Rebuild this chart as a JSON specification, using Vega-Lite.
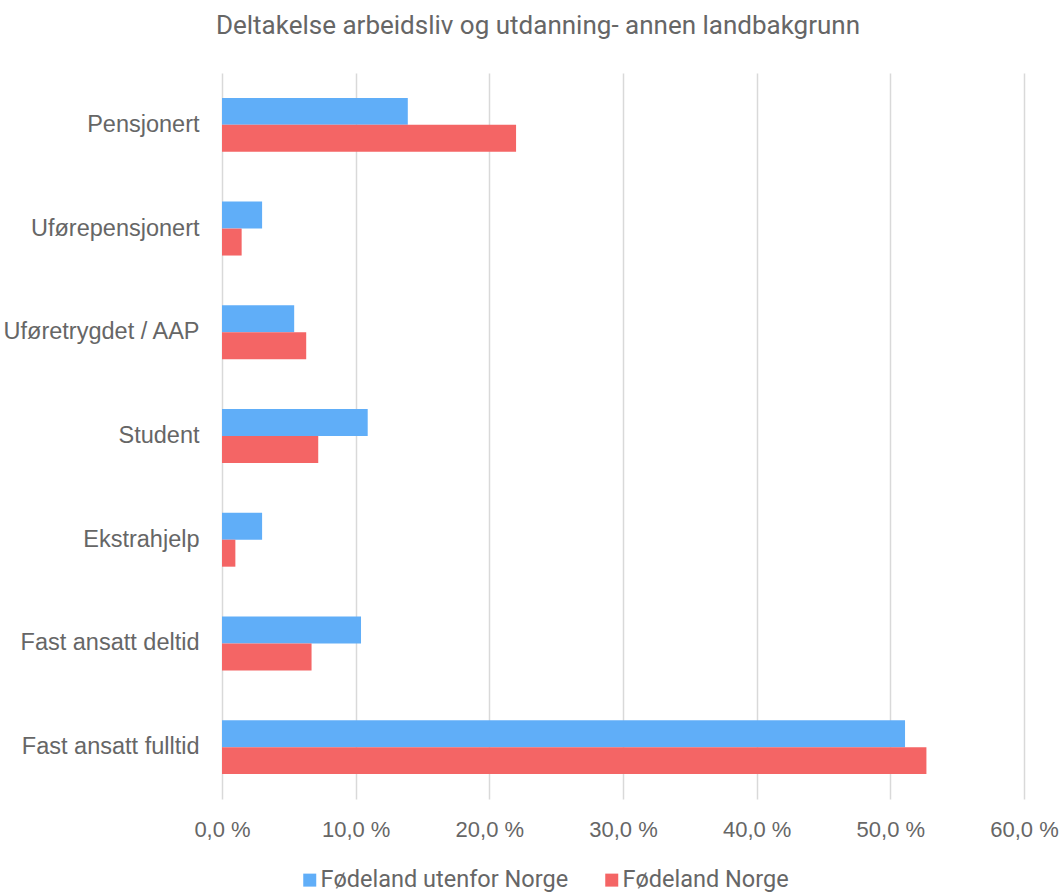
{
  "$schema": "https://vega.github.io/schema/vega-lite/v6.json",
  "width": 802,
  "height": 726,
  "autosize": {"type": "none"},
  "padding": {"left": 222, "top": 73, "right": 38, "bottom": 93},
  "background": "white",
  "title": {
    "text": "Deltakelse arbeidsliv og utdanning- annen landbakgrunn",
    "font": "Roboto",
    "fontSize": 26,
    "fontWeight": "normal",
    "color": "#666666",
    "anchor": "middle",
    "frame": "group",
    "dx": -85,
    "offset": 34
  },
  "data": {
    "values": [
      {"kategori": "Pensjonert", "gruppe": "Fødeland utenfor Norge", "verdi": 13.9},
      {"kategori": "Pensjonert", "gruppe": "Fødeland Norge", "verdi": 22.0},
      {"kategori": "Uførepensjonert", "gruppe": "Fødeland utenfor Norge", "verdi": 3.0},
      {"kategori": "Uførepensjonert", "gruppe": "Fødeland Norge", "verdi": 1.47},
      {"kategori": "Uføretrygdet / AAP", "gruppe": "Fødeland utenfor Norge", "verdi": 5.4},
      {"kategori": "Uføretrygdet / AAP", "gruppe": "Fødeland Norge", "verdi": 6.3},
      {"kategori": "Student", "gruppe": "Fødeland utenfor Norge", "verdi": 10.9},
      {"kategori": "Student", "gruppe": "Fødeland Norge", "verdi": 7.2},
      {"kategori": "Ekstrahjelp", "gruppe": "Fødeland utenfor Norge", "verdi": 3.0},
      {"kategori": "Ekstrahjelp", "gruppe": "Fødeland Norge", "verdi": 1.0},
      {"kategori": "Fast ansatt deltid", "gruppe": "Fødeland utenfor Norge", "verdi": 10.4},
      {"kategori": "Fast ansatt deltid", "gruppe": "Fødeland Norge", "verdi": 6.7},
      {"kategori": "Fast ansatt fulltid", "gruppe": "Fødeland utenfor Norge", "verdi": 51.1},
      {"kategori": "Fast ansatt fulltid", "gruppe": "Fødeland Norge", "verdi": 52.7}
    ]
  },
  "mark": {"type": "bar"},
  "encoding": {
    "y": {
      "field": "kategori",
      "type": "nominal",
      "sort": ["Pensjonert", "Uførepensjonert", "Uføretrygdet / AAP", "Student", "Ekstrahjelp", "Fast ansatt deltid", "Fast ansatt fulltid"],
      "scale": {"paddingInner": 0.48, "paddingOuter": 0.24},
      "axis": {
        "title": null,
        "domain": false,
        "ticks": false,
        "labelPadding": 23,
        "labelFont": "Liberation Sans",
        "labelFontSize": 23.5,
        "labelColor": "#666666",
        "labelLimit": 300
      }
    },
    "yOffset": {
      "field": "gruppe",
      "type": "nominal",
      "sort": ["Fødeland utenfor Norge", "Fødeland Norge"],
      "scale": {"paddingInner": 0, "paddingOuter": 0}
    },
    "x": {
      "field": "verdi",
      "type": "quantitative",
      "scale": {"domain": [0, 60], "nice": false},
      "axis": {
        "title": null,
        "values": [0, 10, 20, 30, 40, 50, 60],
        "labelExpr": "replace(format(datum.value, '.1f'), '.', ',') + ' %'",
        "domain": false,
        "ticks": false,
        "grid": true,
        "gridColor": "#d9d9d9",
        "gridWidth": 1.5,
        "labelPadding": 20,
        "labelFont": "Liberation Sans",
        "labelFontSize": 22,
        "labelColor": "#666666",
        "labelFlush": false
      }
    },
    "color": {
      "field": "gruppe",
      "type": "nominal",
      "sort": ["Fødeland utenfor Norge", "Fødeland Norge"],
      "scale": {"domain": ["Fødeland utenfor Norge", "Fødeland Norge"], "range": ["#60AEF8", "#F46565"]},
      "legend": {
        "title": null,
        "orient": "none",
        "direction": "horizontal",
        "legendX": 76,
        "legendY": 795,
        "symbolType": "square",
        "symbolSize": 169,
        "symbolStrokeWidth": 0,
        "labelFont": "Roboto",
        "labelFontSize": 23.5,
        "labelColor": "#666666",
        "labelOffset": -1,
        "columnPadding": 31,
        "labelLimit": 400
      }
    }
  },
  "config": {"view": {"stroke": null}}
}
